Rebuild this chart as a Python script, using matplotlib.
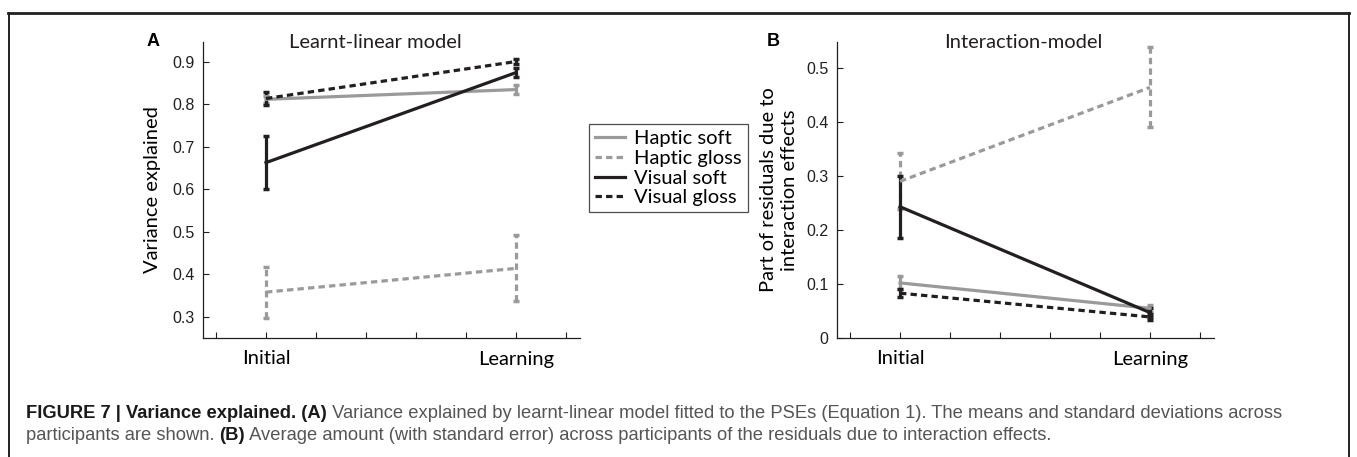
import matplotlib
matplotlib.use('Agg')
import matplotlib.pyplot as plt
from matplotlib.lines import Line2D
import numpy as np

# ---------------- data ----------------
conditions = [1, 2]
condition_labels = ['Initial', 'Learning']
series_names = ['Haptic soft', 'Haptic gloss', 'Visual soft', 'Visual gloss']

# panel A: variance explained (mean, sd)
a_mean = {'Haptic soft': [0.812, 0.835], 'Haptic gloss': [0.358, 0.414],
          'Visual soft': [0.663, 0.875], 'Visual gloss': [0.814, 0.901]}
a_err = {'Haptic soft': [0.008, 0.010], 'Haptic gloss': [0.060, 0.078],
         'Visual soft': [0.062, 0.010], 'Visual gloss': [0.016, 0.006]}

# panel B: part of residuals due to interaction effects (mean, se)
b_mean = {'Haptic soft': [0.102, 0.055], 'Haptic gloss': [0.290, 0.464],
          'Visual soft': [0.243, 0.047], 'Visual gloss': [0.083, 0.039]}
b_err = {'Haptic soft': [0.012, 0.006], 'Haptic gloss': [0.052, 0.074],
         'Visual soft': [0.057, 0.008], 'Visual gloss': [0.008, 0.005]}

a_yticks = [0.3, 0.4, 0.5, 0.6, 0.7, 0.8, 0.9]
b_yticks = [0, 0.1, 0.2, 0.3, 0.4, 0.5]
b_ytick_labels = ['0', '0.1', '0.2', '0.3', '0.4', '0.5']

# ---------------- style ----------------
GRAY = '#9a9a9a'
BLACK = '#231f20'
styles = {'Haptic soft': (GRAY, '-'), 'Haptic gloss': (GRAY, '--'),
          'Visual soft': (BLACK, '-'), 'Visual gloss': (BLACK, '--')}
LW = 2.3
DASHES = (2.0, 1.3)
SANS = ['Lato', 'DejaVu Sans']
NUM = ['Liberation Sans', 'DejaVu Sans']

W, H = 1357, 457
dpi = 100
fig = plt.figure(figsize=(W / dpi, H / dpi), dpi=dpi, facecolor='white')


def fx(px):
    return px / W


def fy(py):
    return 1 - py / H


def draw_panel(ax, means, errs, yticks, ylim, ylabels=None):
    for name in series_names:
        color, ls = styles[name]
        line, caps, bars = ax.errorbar(conditions, means[name], yerr=errs[name],
                                       color=color, lw=LW, elinewidth=LW,
                                       capsize=2, capthick=2.5, zorder=3)
        if ls == '--':
            line.set_dashes(DASHES)
            for b in bars:
                b.set_linestyle((0, DASHES))
    xt = np.arange(0.8, 2.21, 0.2)
    ax.set_xticks(xt)
    ax.set_xticklabels(['' if abs(v - 1) > 1e-6 and abs(v - 2) > 1e-6 else
                        condition_labels[int(round(v)) - 1] for v in xt],
                       fontfamily=SANS, fontsize=14.5)
    ax.set_xlim(0.748, 2.256)
    ax.set_yticks(yticks)
    if ylabels is not None:
        ax.set_yticklabels(ylabels)
    for lab in ax.get_yticklabels():
        lab.set_fontfamily(NUM)
        lab.set_fontsize(11.5)
        lab.set_color(BLACK)
    ax.set_ylim(*ylim)
    ax.tick_params(direction='in', length=4, width=0.8, color=BLACK)
    ax.tick_params(axis='x', pad=9)
    ax.tick_params(axis='y', pad=6)
    for s in ['top', 'right']:
        ax.spines[s].set_visible(False)
    for s in ['left', 'bottom']:
        ax.spines[s].set_linewidth(0.9)
        ax.spines[s].set_color(BLACK)


# ---------------- panel A ----------------
axA = fig.add_axes([fx(203), fy(338), fx(377), fy(42) - fy(338)])
draw_panel(axA, a_mean, a_err, a_yticks, (0.25, 0.947))
axA.set_ylabel('Variance explained', fontfamily=SANS, fontsize=14.5, labelpad=8)
fig.text(fx(375), fy(43), 'Learnt-linear model', ha='center', va='center',
         fontfamily=SANS, fontsize=14.5, color=BLACK)
fig.text(fx(153), fy(42), 'A', ha='center', va='center', fontfamily=NUM,
         fontweight='bold', fontsize=13, color='black')

# ---------------- panel B ----------------
axB = fig.add_axes([fx(837), fy(338), fx(377), fy(42) - fy(338)])
draw_panel(axB, b_mean, b_err, b_yticks, (0, 0.548), b_ytick_labels)
axB.set_ylabel('Part of residuals due to\ninteraction effects', fontfamily=SANS,
               fontsize=14.5, labelpad=6, linespacing=1.25)
fig.text(fx(1023), fy(43), 'Interaction-model', ha='center', va='center',
         fontfamily=SANS, fontsize=14.5, color=BLACK)
fig.text(fx(773), fy(42), 'B', ha='center', va='center', fontfamily=NUM,
         fontweight='bold', fontsize=13, color='black')

# ---------------- legend ----------------
handles = []
for name in series_names:
    color, ls = styles[name]
    h = Line2D([], [], color=color, lw=LW)
    if ls == '--':
        h.set_dashes(DASHES)
    handles.append(h)
leg = fig.legend(handles, series_names, loc='upper left',
                 bbox_to_anchor=(fx(589), fy(124)), frameon=True, fancybox=False,
                 prop={'family': SANS, 'size': 14.5}, handlelength=1.5,
                 handletextpad=0.45, labelspacing=0.13, borderpad=0.3,
                 borderaxespad=0)
leg.get_frame().set_edgecolor(BLACK)
leg.get_frame().set_linewidth(0.9)

# ---------------- frame ----------------
fig.add_artist(Line2D([fx(8), fx(1349)], [fy(13), fy(13)], color=BLACK, lw=2.0))
fig.add_artist(Line2D([fx(8.5), fx(8.5)], [fy(13), fy(470)], color=BLACK, lw=1.4))
fig.add_artist(Line2D([fx(1348.5), fx(1348.5)], [fy(13), fy(470)], color=BLACK, lw=1.4))

# ---------------- caption ----------------
cap_lines = [
    [('FIGURE 7 | Variance explained. (A)', True),
     (' Variance explained by learnt-linear model fitted to the PSEs (Equation 1). '
      'The means and standard deviations across', False)],
    [('participants are shown. ', False), ('(B)', True),
     (' Average amount (with standard error) across participants of the residuals '
      'due to interaction effects.', False)],
]
cap_y = [413, 436]
fig.canvas.draw()
renderer = fig.canvas.get_renderer()
for pieces, ypx in zip(cap_lines, cap_y):
    x = 26
    for txt, bold in pieces:
        t = fig.text(fx(x), fy(ypx), txt, ha='left', va='center', fontfamily=NUM,
                     fontsize=13.2, fontweight='bold' if bold else 'normal',
                     color='#1a1a1a' if bold else '#555555')
        x += t.get_window_extent(renderer).width

fig.savefig('out.png', dpi=dpi, facecolor='white')
